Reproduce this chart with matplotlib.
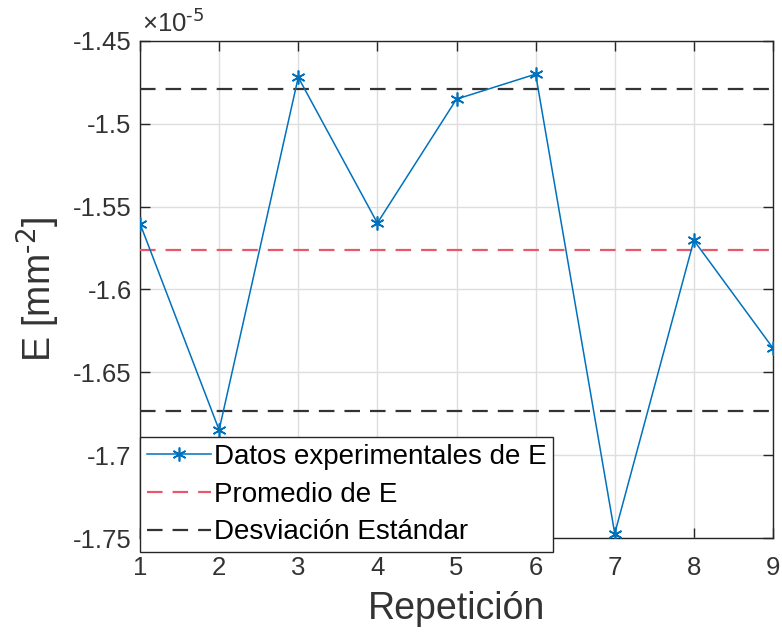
import numpy as np
import matplotlib
matplotlib.use("Agg")
import matplotlib.pyplot as plt
from matplotlib.ticker import FuncFormatter, MultipleLocator

plt.rcParams['font.family'] = ['Liberation Sans', 'DejaVu Sans']

# Repetitions and measured E values (mm^-2)
repeticion = [1, 2, 3, 4, 5, 6, 7, 8, 9]
E_vals = np.array([-1.5602, -1.6848, -1.4719, -1.5599, -1.4851,
                   -1.4700, -1.7473, -1.5703, -1.6354]) * 1e-5

mean_E = np.mean(E_vals)
std_E = np.std(E_vals, ddof=1)

fig = plt.figure(figsize=(7.82, 6.32), dpi=100)
ax = fig.add_axes([140 / 782, (632 - 538) / 632, 633 / 782, 497 / 632])

blue = '#0072BD'
red = '#e8576a'
dark = '#262626'

x_span = [repeticion[0], repeticion[-1]]
ax.plot(repeticion, E_vals, color=blue, lw=1.1, marker=(6, 2, 0),
        markersize=10, markeredgewidth=1.2, zorder=4,
        label='Datos experimentales de E')
ax.plot(x_span, [mean_E, mean_E], color=red, lw=1.6, dashes=(7, 4.5),
        zorder=3, label='Promedio de E')
ax.plot(x_span, [mean_E + std_E] * 2, color='#333333', lw=1.6,
        dashes=(7, 4.5), zorder=3, label='Desviación Estándar')
ax.plot(x_span, [mean_E - std_E] * 2, color='#333333', lw=1.6,
        dashes=(7, 4.5), zorder=3)

ax.set_xlim(1, 9)
ax.set_ylim(-1.75e-5, -1.45e-5)
ax.xaxis.set_major_locator(MultipleLocator(1))
ax.yaxis.set_major_locator(MultipleLocator(0.05e-5))
ax.yaxis.set_major_formatter(FuncFormatter(lambda v, p: f"{round(v / 1e-5, 4):g}"))

ax.grid(True, color='#dedede', lw=1.0, zorder=0)
ax.set_axisbelow(True)
for s in ax.spines.values():
    s.set_color(dark)
    s.set_linewidth(1.0)
ax.tick_params(direction='in', length=7, width=1.0, colors=dark,
               labelsize=18.5, top=True, right=True)
ax.tick_params(axis='x', pad=13)
ax.tick_params(axis='y', pad=6)
for lbl in ax.get_xticklabels() + ax.get_yticklabels():
    lbl.set_color('#333333')

ax.set_xlabel('Repetición', fontsize=27, color='#333333', labelpad=8)
ax.set_ylabel('E [mm$^{\\text{-2}}$]', fontsize=27, color='#333333', labelpad=8)

ax.text(0.003, 1.008, '×10$^{\\text{-5}}$', transform=ax.transAxes,
        fontsize=18.5, color='#333333', ha='left', va='bottom')

leg = ax.legend(loc='upper left', bbox_to_anchor=(0.0, 0.203), borderaxespad=0,
                fontsize=20, frameon=True, fancybox=False, framealpha=1,
                edgecolor=dark, handlelength=2.3, handletextpad=0.1,
                labelspacing=0.42, borderpad=0.25)
leg.get_frame().set_linewidth(1.0)
leg.set_zorder(10)

fig.savefig('out.png', dpi=100, facecolor='white')
